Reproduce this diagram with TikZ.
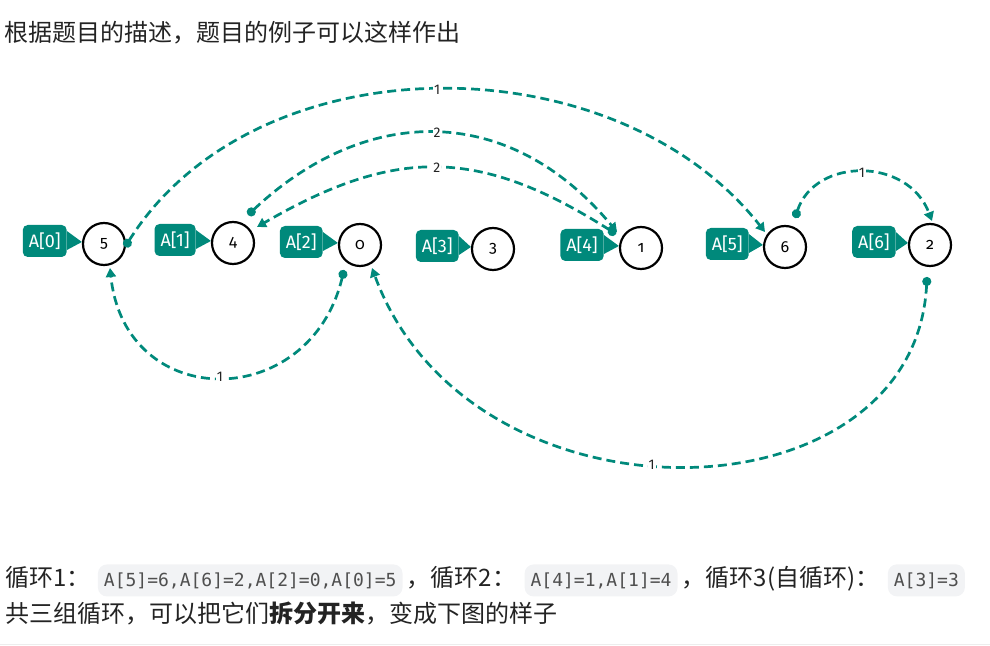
\documentclass[tikz,border=0pt]{standalone}
\usepackage{fontspec}
\usetikzlibrary{arrows.meta,positioning}
\setmainfont{Fira Sans}
\newfontfamily\cjk{Noto Sans CJK SC}
\newfontfamily\oldnum[Numbers=OldStyle]{Fira Sans}
\newfontfamily\codefont{DejaVu Sans Mono}
\definecolor{cyc}{HTML}{00897B}
\definecolor{chipbg}{HTML}{F2F3F5}
\definecolor{ink}{HTML}{232323}
\definecolor{codegray}{HTML}{4F4F4F}

\begin{document}
\begin{tikzpicture}[x=1pt,y=1pt,
    cell/.style={circle,draw,line width=2.2pt,minimum size=42pt,inner sep=0pt,font=\oldnum\fontsize{16}{16}\selectfont},
    tag/.style={fill=cyc,text=white,rounded corners=5pt,minimum height=32pt,inner xsep=6pt,yshift=3pt,font=\fontsize{18}{18}\selectfont},
    link/.style={cyc,line width=2.7pt,dash pattern=on 9pt off 5pt,{Circle[length=9pt]}-{Triangle[length=9pt,width=10pt]}},
    lbl/.style={fill=white,inner sep=1pt,text=ink,font=\fontsize{14}{14}\selectfont},
    txt/.style={inner sep=0pt,text=ink,font=\cjk\fontsize{24}{24}\selectfont},
    chip/.style={fill=chipbg,rounded corners=9pt,minimum height=32pt,inner xsep=6pt,text=codegray,font=\codefont\fontsize{18}{18}\selectfont}]
    \useasboundingbox (0,0) rectangle (990,645);
    \node[txt,anchor=west] (head) at (4,612) {根据题目的描述，题目的例子可以这样作出};
    \node[cell] (n5) at (104,401) {5};
    \node[cell] (n4) at (233,402) {4};
    \node[cell] (n0) at (360,400) {0};
    \node[cell] (n3) at (493,396) {3};
    \node[cell] (n1) at (641,397) {1};
    \node[cell] (n6) at (785,398) {6};
    \node[cell] (n2) at (930,400) {2};
    \node[tag,left=15pt of n5] (a0) {A[0]};
    \node[tag,left=15pt of n4] (a1) {A[1]};
    \node[tag,left=15pt of n0] (a2) {A[2]};
    \node[tag,left=12pt of n3] (a3) {A[3]};
    \node[tag,left=15pt of n1] (a4) {A[4]};
    \node[tag,left=14pt of n6] (a5) {A[5]};
    \node[tag,left=12pt of n2] (a6) {A[6]};
    \fill[cyc] ([yshift=10pt]a0.east) -- ([yshift=2pt]n5.west) -- ([yshift=-9pt]a0.east) -- cycle;
    \fill[cyc] ([yshift=10pt]a1.east) -- ([yshift=2pt]n4.west) -- ([yshift=-9pt]a1.east) -- cycle;
    \fill[cyc] ([yshift=10pt]a2.east) -- ([yshift=2pt]n0.west) -- ([yshift=-9pt]a2.east) -- cycle;
    \fill[cyc] ([yshift=10pt]a3.east) -- ([yshift=2pt]n3.west) -- ([yshift=-9pt]a3.east) -- cycle;
    \fill[cyc] ([yshift=10pt]a4.east) -- ([yshift=2pt]n1.west) -- ([yshift=-9pt]a4.east) -- cycle;
    \fill[cyc] ([yshift=10pt]a5.east) -- ([yshift=2pt]n6.west) -- ([yshift=-9pt]a5.east) -- cycle;
    \fill[cyc] ([yshift=10pt]a6.east) -- ([yshift=2pt]n2.west) -- ([yshift=-9pt]a6.east) -- cycle;
    \draw[link] ([shift={(21,-3)}]n5.center) .. controls +(130,207) and +(-151,192) .. ([shift={(-20,15)}]n6.center) node[lbl,pos=.5] {1};
    \draw[link] ([shift={(15,28)}]n4.center) .. controls +(119,112) and +(-107,129) .. ([shift={(-24,16)}]n1.center) node[lbl,pos=.5] {2};
    \draw[link] ([shift={(-25,14)}]n1.center) .. controls +(-137,87) and +(138,80) .. ([shift={(24,16)}]n4.center) node[lbl,pos=.5] {2};
    \draw[link] ([shift={(10,29)}]n6.center) .. controls +(20,61) and +(-24,64) .. ([shift={(2,24)}]n2.center) node[lbl,pos=.5] {1};
    \draw[link] ([shift={(-3,-32)}]n2.center) .. controls +(-12,-248) and +(98,-267) .. ([shift={(12,-23)}]n0.center) node[lbl,pos=.54] {1};
    \draw[link] ([shift={(-16,-25)}]n0.center) .. controls +(-34,-143) and +(15,-145) .. ([shift={(6,-24)}]n5.center) node[lbl,pos=.5] {1};
    \node[txt,anchor=west] (r1) at (5,68) {循环1：};
    \node[chip,base right=7pt of r1] (k1) {A[5]=6,A[6]=2,A[2]=0,A[0]=5};
    \node[txt,base right=4pt of k1] (r2) {，循环2：};
    \node[chip,base right=8pt of r2] (k2) {A[4]=1,A[1]=4};
    \node[txt,base right=4pt of k2] (r3) {，循环3(自循环)：};
    \node[chip,base right=8pt of r3] (k3) {A[3]=3};
    \node[txt,anchor=west] (r4) at (5,32) {共三组循环，可以把它们\textbf{拆分开来}，变成下图的样子};
    \draw[black!7,line width=1pt] (0,1) -- (990,1);
\end{tikzpicture}
\end{document}
